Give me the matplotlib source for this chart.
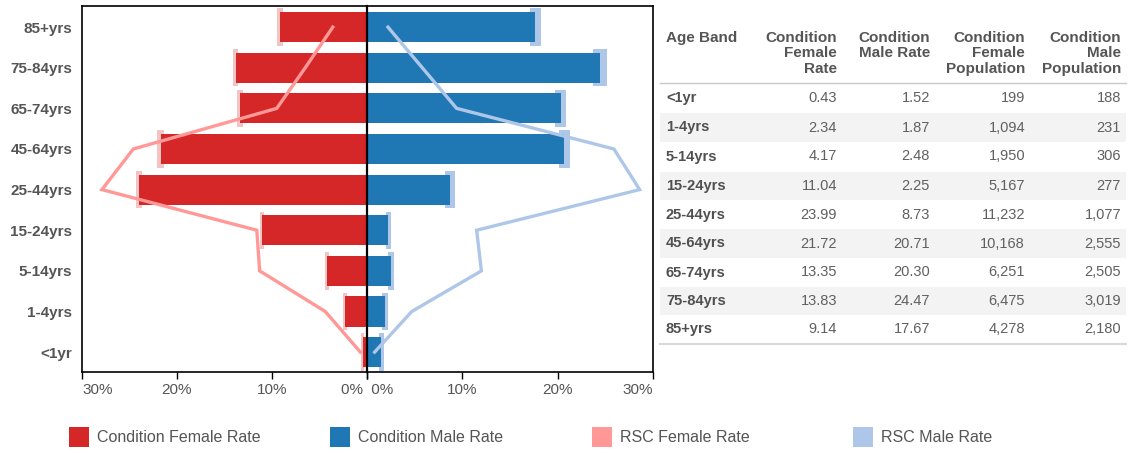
import matplotlib
matplotlib.use("Agg")
import matplotlib.pyplot as plt
from matplotlib.patches import Rectangle

plt.rcParams['font.family'] = ['Liberation Sans', 'DejaVu Sans']

age_bands = ["<1yr", "1-4yrs", "5-14yrs", "15-24yrs", "25-44yrs",
             "45-64yrs", "65-74yrs", "75-84yrs", "85+yrs"]
female_rate = [0.43, 2.34, 4.17, 11.04, 23.99, 21.72, 13.35, 13.83, 9.14]
male_rate = [1.52, 1.87, 2.48, 2.25, 8.73, 20.71, 20.30, 24.47, 17.67]
female_pop = ["199", "1,094", "1,950", "5,167", "11,232", "10,168", "6,251", "6,475", "4,278"]
male_pop = ["188", "231", "306", "277", "1,077", "2,555", "2,505", "3,019", "2,180"]
female_ci = [0.15, 0.2, 0.2, 0.25, 0.3, 0.35, 0.3, 0.3, 0.3]
male_ci = [0.3, 0.3, 0.3, 0.3, 0.5, 0.6, 0.55, 0.75, 0.55]
rsc_female = [0.7, 4.4, 11.3, 11.6, 27.9, 24.6, 9.5, 6.5, 3.6]
rsc_male = [0.8, 4.7, 12.0, 11.5, 28.6, 25.9, 9.4, 5.8, 2.2]
xticks = [0, 10, 20, 30]
table_headers = ["Age Band", "Condition\nFemale\nRate", "Condition\nMale Rate",
                 "Condition\nFemale\nPopulation", "Condition\nMale\nPopulation"]
legend_labels = ["Condition Female Rate", "Condition Male Rate", "RSC Female Rate", "RSC Male Rate"]

C_F = "#d62728"
C_M = "#1f77b4"
C_RF = "#ff9896"
C_RM = "#aec7e8"
C_FCI = "#f2c4c4"
GRAY = "#555555"

W, H = 1129, 453
fig = plt.figure(figsize=(W / 100, H / 100), dpi=100)

def px_axes(x0, y0, x1, y1):
    return fig.add_axes([x0 / W, 1 - y1 / H, (x1 - x0) / W, (y1 - y0) / H])

axL = px_axes(82, 6, 367, 372)
axR = px_axes(367, 6, 653, 372)
ypos = list(range(len(age_bands)))

for ax, vals, ci, col, cicol, rsc, rcol in [
        (axL, female_rate, female_ci, C_F, C_FCI, rsc_female, C_RF),
        (axR, male_rate, male_ci, C_M, C_RM, rsc_male, C_RM)]:
    ax.barh(ypos, [2 * c for c in ci], left=[v - c for v, c in zip(vals, ci)],
            height=0.92, color=cicol, zorder=1, linewidth=0)
    ax.barh(ypos, vals, height=0.74, color=col, zorder=2, linewidth=0)
    ax.plot(rsc, ypos, color=rcol, lw=2.4, zorder=3, solid_joinstyle='miter')
    ax.set_ylim(-0.49, 8.52)
    ax.set_xticks(xticks)
    ax.tick_params(axis='x', length=5, width=1, colors='black', labelcolor=GRAY,
                   labelsize=11, pad=3)
    for s in ax.spines.values():
        s.set_color('black')
        s.set_linewidth(1.2)

axL.set_xticklabels([(f"{t}% " if t == 0 else f"{t}%") for t in xticks])
axR.set_xticklabels([(f" {t}%" if t == 0 else f"{t}%") for t in xticks])
axL.set_xlim(30, 0)
axR.set_xlim(0, 30)
axL.set_yticks(ypos)
axL.set_yticklabels(age_bands, fontweight='bold', color=GRAY, fontsize=11)
axL.tick_params(axis='y', length=0, pad=7)
axR.set_yticks([])
axL.spines['right'].set_visible(False)
axR.spines['left'].set_linewidth(1.6)

for lab in axL.get_xticklabels():
    t = lab.get_text().strip()
    lab.set_ha('left' if t == '30%' else ('right' if t == '0%' else 'center'))
for lab in axR.get_xticklabels():
    t = lab.get_text().strip()
    lab.set_ha('left' if t == '0%' else ('right' if t == '30%' else 'center'))

# overlay in pixel coordinates for table and legend
ov = fig.add_axes([0, 0, 1, 1], zorder=-1)
ov.set_xlim(0, W)
ov.set_ylim(H, 0)
ov.axis('off')

col_right = [None, 837, 930, 1025, 1121]
row_y = [98, 127.5, 156.5, 186, 215, 243.5, 272.5, 301, 329]
row_h = 28.9
for i, y in enumerate(row_y):
    if i % 2 == 1:
        ov.add_patch(Rectangle((660, y - row_h / 2), 466, row_h, color="#f3f3f3", lw=0, zorder=0))
ov.plot([660, 1126], [83, 83], color="#c8c8c8", lw=1)
ov.plot([660, 1126], [343.5, 343.5], color="#d8d8d8", lw=1.5)

ov.text(666, 31, table_headers[0], ha='left', va='top', fontsize=11, fontweight='bold',
        color="#555555", linespacing=1.12)
for j in range(1, 5):
    ov.text(col_right[j], 31, table_headers[j], ha='right', va='top', fontsize=11,
            fontweight='bold', color="#555555", linespacing=1.12, multialignment='right')

for i, y in enumerate(row_y):
    ov.text(666, y, age_bands[i], ha='left', va='center', fontsize=10.5,
            fontweight='bold', color="#505050")
    vals = [f"{female_rate[i]:.2f}", f"{male_rate[i]:.2f}", female_pop[i], male_pop[i]]
    for j, v in enumerate(vals):
        ov.text(col_right[j + 1], y, v, ha='right', va='center', fontsize=10.5, color="#606060")

# legend
leg_x = [69, 330, 592, 853]
leg_c = [C_F, C_M, C_RF, C_RM]
for x, c, lab in zip(leg_x, leg_c, legend_labels):
    ov.add_patch(Rectangle((x, 427), 20, 20, color=c, lw=0))
    ov.text(x + 28, 438, lab, ha='left', va='center', fontsize=11.5, color=GRAY)

fig.savefig("out.png", dpi=100)
